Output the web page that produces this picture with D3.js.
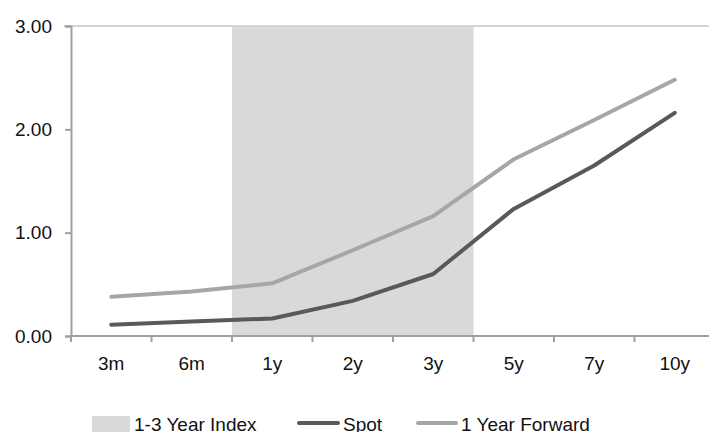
<!DOCTYPE html>
<html>
<head>
<meta charset="utf-8">
<script src="https://cdn.jsdelivr.net/npm/d3@7"></script>
<style>
  body { margin: 0; background: #fff; }
  svg { display: block; font-family: "Liberation Sans", Arial, sans-serif; }
</style>
</head>
<body>
<script>
// chart data
var categories = ["3m", "6m", "1y", "2y", "3y", "5y", "7y", "10y"];
var spot = [0.11, 0.14, 0.17, 0.34, 0.60, 1.23, 1.65, 2.16];
var forward = [0.38, 0.43, 0.51, 0.83, 1.16, 1.71, 2.09, 2.48];
var shadeFrom = "1y", shadeTo = "3y";
var yTicks = [0, 1, 2, 3];
var legendLabels = ["1-3 Year Index", "Spot", "1 Year Forward"];

var width = 709,
	height = 432;

var svg = d3.select("body").append("svg")
	.attr("width", width)
	.attr("height", height);

var x = d3.scaleBand().domain(categories).range([71, 715]);
var y = d3.scaleLinear().domain([0, 3]).range([336, 26]);

// shaded 1-3 year band
svg.append("rect")
	.attr("x", x(shadeFrom))
	.attr("y", y(3))
	.attr("width", x(shadeTo) + x.bandwidth() - x(shadeFrom))
	.attr("height", y(0) - y(3))
	.attr("fill", "#d9d9d9");

// top border line
svg.append("line")
	.attr("x1", 64).attr("x2", width)
	.attr("y1", y(3)).attr("y2", y(3))
	.attr("stroke", "#d4d4d4").attr("stroke-width", 2);

// y axis
var yAxis = d3.axisLeft(y).tickValues(yTicks).tickSize(6).tickPadding(13)
	.tickFormat(d3.format(".2f"));
var gy = svg.append("g").attr("transform", "translate(71,0)").call(yAxis);
gy.select(".domain").attr("stroke", "#a0a0a0").attr("stroke-width", 2);
gy.selectAll(".tick line").attr("stroke", "#a0a0a0").attr("stroke-width", 2);
gy.selectAll("text").attr("font-size", 19).attr("fill", "#111")
	.attr("font-family", "Liberation Sans, Arial, sans-serif");

// x axis: labels from the axis, ticks at band edges
var xAxis = d3.axisBottom(x).tickSize(0).tickPadding(21);
var gx = svg.append("g").attr("transform", "translate(0," + y(0) + ")").call(xAxis);
gx.select(".domain").remove();
gx.selectAll("text").attr("font-size", 19).attr("fill", "#111")
	.attr("font-family", "Liberation Sans, Arial, sans-serif");

svg.append("line")
	.attr("x1", 71).attr("x2", width)
	.attr("y1", y(0)).attr("y2", y(0))
	.attr("stroke", "#a0a0a0").attr("stroke-width", 2);

svg.selectAll(".xtick")
	.data(categories)
	.enter().append("line")
	.attr("class", "xtick")
	.attr("x1", function(d) { return x(d); })
	.attr("x2", function(d) { return x(d); })
	.attr("y1", y(0))
	.attr("y2", y(0) + 6)
	.attr("stroke", "#a0a0a0").attr("stroke-width", 2);

// lines
var line = d3.line()
	.x(function(d, i) { return x(categories[i]) + x.bandwidth() / 2; })
	.y(function(d) { return y(d); });

svg.append("path").datum(forward)
	.attr("d", line)
	.attr("fill", "none").attr("stroke", "#a6a6a6").attr("stroke-width", 4)
	.attr("stroke-linejoin", "round").attr("stroke-linecap", "round");

svg.append("path").datum(spot)
	.attr("d", line)
	.attr("fill", "none").attr("stroke", "#595959").attr("stroke-width", 4)
	.attr("stroke-linejoin", "round").attr("stroke-linecap", "round");

// legend
var lg = svg.append("g").attr("font-size", 19).attr("fill", "#111");
lg.append("rect").attr("x", 92).attr("y", 416).attr("width", 38).attr("height", 18).attr("fill", "#d9d9d9");
lg.append("text").attr("x", 134).attr("y", 431).text(legendLabels[0]);
lg.append("line").attr("x1", 299).attr("x2", 338).attr("y1", 423).attr("y2", 423)
	.attr("stroke", "#595959").attr("stroke-width", 4).attr("stroke-linecap", "round");
lg.append("text").attr("x", 343).attr("y", 431).text(legendLabels[1]);
lg.append("line").attr("x1", 418).attr("x2", 456).attr("y1", 423).attr("y2", 423)
	.attr("stroke", "#a6a6a6").attr("stroke-width", 4).attr("stroke-linecap", "round");
lg.append("text").attr("x", 461).attr("y", 431).text(legendLabels[2]);
</script>
</body>
</html>
